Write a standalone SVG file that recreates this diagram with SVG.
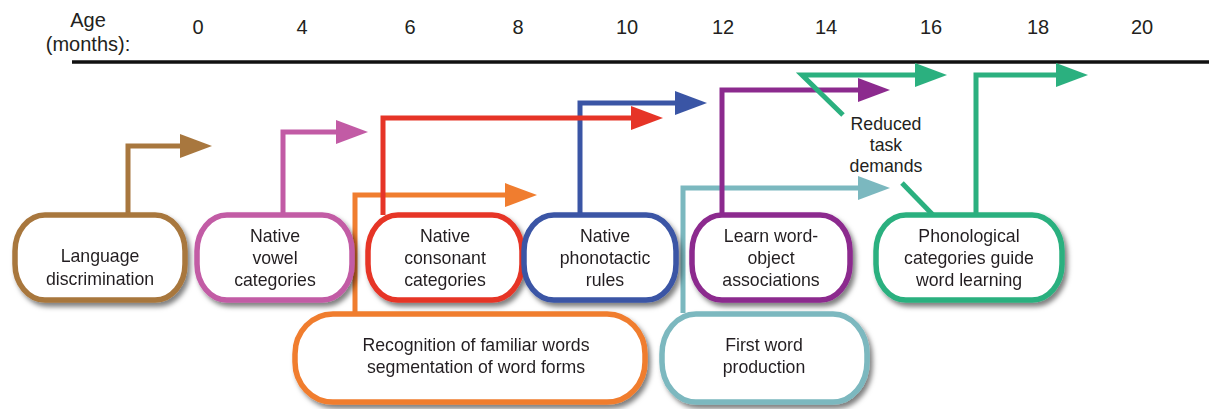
<svg xmlns="http://www.w3.org/2000/svg" width="1209" height="409" viewBox="0 0 1209 409">
<style>
text{font-family:"Liberation Sans",Arial,sans-serif;font-size:17.7px;fill:#231F20;text-anchor:middle}
.ax{font-size:20px}
.box{fill:#fff;stroke-width:5.5}
.c{fill:none;stroke-width:5;stroke-linejoin:miter}
</style>
<defs>
<filter id="sh" x="-10%" y="-10%" width="125%" height="130%">
<feDropShadow dx="3" dy="4" stdDeviation="2.5" flood-color="#000" flood-opacity="0.5"/>
</filter>
<marker id="mBrown" markerUnits="userSpaceOnUse" markerWidth="32" markerHeight="24" refX="4" refY="12" orient="auto"><path d="M0,0L32,12L0,24z" fill="#A8773E"/></marker>
<marker id="mPink" markerUnits="userSpaceOnUse" markerWidth="32" markerHeight="24" refX="4" refY="12" orient="auto"><path d="M0,0L32,12L0,24z" fill="#C25BA5"/></marker>
<marker id="mRed" markerUnits="userSpaceOnUse" markerWidth="32" markerHeight="24" refX="4" refY="12" orient="auto"><path d="M0,0L32,12L0,24z" fill="#E63427"/></marker>
<marker id="mOrange" markerUnits="userSpaceOnUse" markerWidth="32" markerHeight="24" refX="4" refY="12" orient="auto"><path d="M0,0L32,12L0,24z" fill="#F07D2F"/></marker>
<marker id="mBlue" markerUnits="userSpaceOnUse" markerWidth="32" markerHeight="24" refX="4" refY="12" orient="auto"><path d="M0,0L32,12L0,24z" fill="#3A55A5"/></marker>
<marker id="mPurple" markerUnits="userSpaceOnUse" markerWidth="32" markerHeight="24" refX="4" refY="12" orient="auto"><path d="M0,0L32,12L0,24z" fill="#8C2A8E"/></marker>
<marker id="mTeal" markerUnits="userSpaceOnUse" markerWidth="32" markerHeight="24" refX="4" refY="12" orient="auto"><path d="M0,0L32,12L0,24z" fill="#7BB8BF"/></marker>
<marker id="mGreen" markerUnits="userSpaceOnUse" markerWidth="32" markerHeight="24" refX="4" refY="12" orient="auto"><path d="M0,0L32,12L0,24z" fill="#2BB07F"/></marker>
</defs>
<rect width="1209" height="409" fill="#fff"/>
<g id="axis">
<text class="ax" x="88" y="27">Age</text>
<text class="ax" x="88" y="51">(months):</text>
<text class="ax" x="198" y="34">0</text>
<text class="ax" x="302" y="34">4</text>
<text class="ax" x="410" y="34">6</text>
<text class="ax" x="518" y="34">8</text>
<text class="ax" x="627" y="34">10</text>
<text class="ax" x="723" y="34">12</text>
<text class="ax" x="826" y="34">14</text>
<text class="ax" x="931" y="34">16</text>
<text class="ax" x="1038" y="34">18</text>
<text class="ax" x="1142" y="34">20</text>
<line x1="72" y1="62" x2="1209" y2="62" stroke="#111" stroke-width="3.5"/>
</g>
<g id="connectors">
<path class="c" stroke="#A8773E" d="M128,215V146H184" marker-end="url(#mBrown)"/>
<path class="c" stroke="#C25BA5" d="M283,215V132H340" marker-end="url(#mPink)"/>
<path class="c" stroke="#F07D2F" d="M355,313V195H509" marker-end="url(#mOrange)"/>
<path class="c" stroke="#3A55A5" d="M580,215V103H679" marker-end="url(#mBlue)"/>
<path class="c" stroke="#E63427" d="M383,215V118H635" marker-end="url(#mRed)"/>
<path class="c" stroke="#7BB8BF" d="M683,313V188H862" marker-end="url(#mTeal)"/>
<path class="c" stroke="#8C2A8E" d="M722,215V90H862" marker-end="url(#mPurple)"/>
<path class="c" stroke="#2BB07F" d="M843,115L802,75H919" marker-end="url(#mGreen)"/>
<path class="c" stroke="#2BB07F" d="M933,215L902,183"/>
<path class="c" stroke="#2BB07F" d="M976,215V75H1060" marker-end="url(#mGreen)"/>
<text x="886" y="130">Reduced</text>
<text x="886" y="151">task</text>
<text x="886" y="172">demands</text>
</g>
<g id="lang" filter="url(#sh)">
<rect class="box" x="15" y="215" width="170" height="85" rx="30" ry="36" stroke="#A8773E"/>
<text x="100" y="262">Language</text>
<text x="100" y="285">discrimination</text>
</g>
<g id="vowel" filter="url(#sh)">
<rect class="box" x="197" y="215" width="155" height="85" rx="30" ry="36" stroke="#C25BA5"/>
<text x="275" y="242">Native</text>
<text x="275" y="264">vowel</text>
<text x="275" y="286">categories</text>
</g>
<g id="consonant" filter="url(#sh)">
<rect class="box" x="368" y="215" width="154" height="85" rx="30" ry="36" stroke="#E63427"/>
<text x="445" y="242">Native</text>
<text x="445" y="264">consonant</text>
<text x="445" y="286">categories</text>
</g>
<g id="phonotactic" filter="url(#sh)">
<rect class="box" x="524" y="215" width="152" height="85" rx="30" ry="36" stroke="#3A55A5"/>
<text x="605" y="242">Native</text>
<text x="605" y="264">phonotactic</text>
<text x="605" y="286">rules</text>
</g>
<g id="wordobject" filter="url(#sh)">
<rect class="box" x="692" y="215" width="158" height="85" rx="30" ry="36" stroke="#8C2A8E"/>
<text x="771" y="242">Learn word-</text>
<text x="771" y="264">object</text>
<text x="771" y="286">associations</text>
</g>
<g id="phonological" filter="url(#sh)">
<rect class="box" x="876" y="215" width="186" height="85" rx="30" ry="36" stroke="#2BB07F"/>
<text x="969" y="242">Phonological</text>
<text x="969" y="264">categories guide</text>
<text x="969" y="286">word learning</text>
</g>
<g id="recognition" filter="url(#sh)">
<rect class="box" x="295" y="314" width="350" height="88" rx="38" ry="40" stroke="#F07D2F"/>
<text x="476" y="351">Recognition of familiar words</text>
<text x="476" y="373">segmentation of word forms</text>
</g>
<g id="firstword" filter="url(#sh)">
<rect class="box" x="662" y="314" width="205" height="88" rx="34" ry="40" stroke="#7BB8BF"/>
<text x="764" y="351">First word</text>
<text x="764" y="373">production</text>
</g>
</svg>
